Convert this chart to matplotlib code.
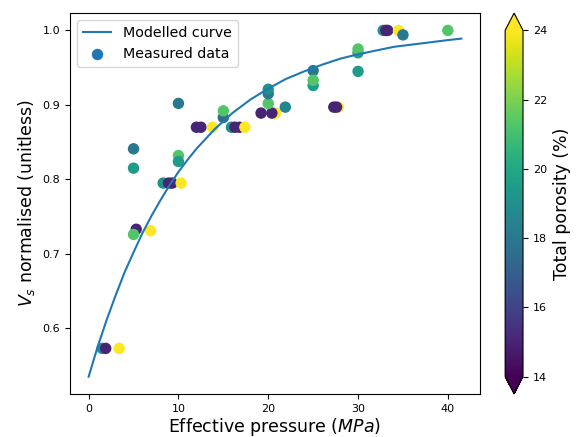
import numpy as np
import matplotlib
matplotlib.use("Agg")
import matplotlib.pyplot as plt

# modelled curve
curve_p = [0, 1, 2, 3, 4, 5, 6, 7, 8, 9, 10, 11, 12, 13, 14, 15, 16, 18, 20, 22, 24, 26, 28, 30,
           32, 34, 36, 38, 40, 41.5]
curve_v = [0.535, 0.575, 0.611, 0.644, 0.675, 0.702, 0.728, 0.751, 0.772, 0.792, 0.810, 0.826,
           0.841, 0.854, 0.867, 0.878, 0.889, 0.907, 0.922, 0.935, 0.945, 0.954, 0.962, 0.968,
           0.973, 0.978, 0.981, 0.984, 0.987, 0.989]

# measured data: effective pressure (MPa), normalised Vs, total porosity (%)
pressure = [1.5, 1.9, 3.4,
            5.3, 5.0, 6.9, 5.0, 5.0,
            8.3, 8.9, 9.3, 10.3, 10.0, 10.0, 10.0,
            12.0, 12.5, 13.8, 15.0, 15.0,
            15.9, 16.3, 16.8, 17.4,
            20.8, 19.2, 20.4, 20.0, 20.0, 20.0, 21.9,
            27.8, 27.3, 27.6,
            25.0, 25.0, 25.0,
            30.0, 30.0, 30.0,
            32.8, 33.1, 33.3, 34.5, 35.0, 40.0]
vs_norm = [0.573, 0.573, 0.573,
           0.733, 0.726, 0.731, 0.841, 0.815,
           0.795, 0.795, 0.795, 0.795, 0.832, 0.824, 0.902,
           0.870, 0.870, 0.870, 0.883, 0.892,
           0.870, 0.870, 0.870, 0.870,
           0.889, 0.889, 0.889, 0.902, 0.915, 0.921, 0.897,
           0.897, 0.897, 0.897,
           0.946, 0.926, 0.933,
           0.945, 0.970, 0.975,
           1.000, 1.000, 1.000, 1.000, 0.994, 1.000]
porosity = [19, 15, 24,
            15, 21.3, 24, 18, 19.5,
            19, 15, 15, 24, 21.3, 19.5, 18,
            15, 15, 24, 17.5, 21.3,
            19, 15, 15, 24,
            24, 15, 15, 21.3, 18, 19, 18.5,
            24, 15, 15,
            18, 19.5, 21.3,
            19.5, 19.5, 21.3,
            19, 15, 15, 24, 18, 21.3]

fig = plt.figure(figsize=(5.76, 4.37), dpi=100)
ax = fig.add_axes([0.1215, 0.0984, 0.7118, 0.8716])
cax = fig.add_axes([0.877, 0.0984, 0.031, 0.8716])

ax.plot(curve_p, curve_v, color="C0", label="Modelled curve")
sc = ax.scatter(pressure, vs_norm, c=porosity, cmap="viridis", vmin=14, vmax=24,
                s=52, label="Measured data")

ax.set_xlabel("Effective pressure ($MPa$)", fontsize=12.5, labelpad=2)
ax.set_ylabel("$V_s$ normalised (unitless)", fontsize=12.5, labelpad=4)
ax.set_xticks([0, 10, 20, 30, 40])
ax.set_yticks([0.6, 0.7, 0.8, 0.9, 1.0])
ax.tick_params(labelsize=8)

leg = ax.legend(loc="upper left", fontsize=10.3)
h = leg.legend_handles[1]
h.set_array(None)
h.set_facecolor("C0")
h.set_edgecolor("C0")

cb = fig.colorbar(sc, cax=cax, extend="both")
cb.set_ticks([14, 16, 18, 20, 22, 24])
cb.ax.tick_params(labelsize=8)
cb.set_label("Total porosity (%)", fontsize=12.5)

fig.savefig("out.png", dpi=100)
